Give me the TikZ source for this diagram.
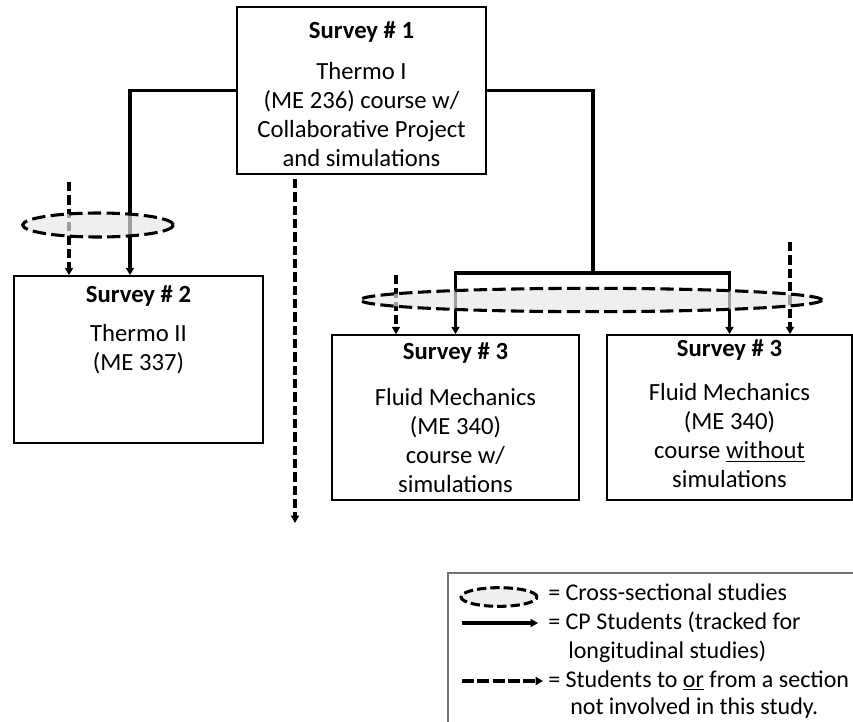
\documentclass[tikz,border=0pt]{standalone}
\usepackage{fontspec}
\setmainfont{Carlito}
\usetikzlibrary{arrows.meta}
\usetikzlibrary{positioning}
\usetikzlibrary{shapes.geometric}
\tikzset{
    survey/.style={
           rectangle,
           draw=black, line width=1.3pt,
           inner sep=0pt,
           },
    heading/.style={
           font=\fontsize{18.5}{21.75}\selectfont\bfseries,
           inner sep=0pt,
           },
    course/.style={
           font=\fontsize{18.5}{21.75}\selectfont,
           align=center,
           inner sep=0pt,
           },
    xsection/.style={
           ellipse,
           draw=black, line width=2.3pt,
           dash pattern=on 10pt off 4pt,
           fill=gray!18, fill opacity=0.68,
           inner sep=0pt,
           },
    cp/.style={line width=2.3pt, -{Triangle[length=5.5pt,width=6pt]}},
    other/.style={cp, dash pattern=on 7pt off 3pt},
    legendtext/.style={
           font=\fontsize{18}{21}\selectfont,
           inner sep=0pt, anchor=base west,
           },
}

\begin{document}
\begin{tikzpicture}[x=0.75pt, y=-0.75pt]
	\useasboundingbox (0,0) rectangle (853,721);

	\node[survey, minimum width=186.75pt, minimum height=125.25pt] (s1) at (361.5,90.5) {};
	\node[survey, minimum width=186.75pt, minimum height=125.25pt] (s2) at (138.5,359.5) {};
	\node[survey, minimum width=185.25pt, minimum height=123.75pt] (s3a) at (455.5,417.5) {};
	\node[survey, minimum width=183.75pt, minimum height=123.75pt] (s3b) at (729.5,417.5) {};

	\node[heading] (s1h) at (361.5,32) {Survey \# 1};
	\node[course] (s1b) at (361.5,115) {Thermo I\\(ME 236) course w/\\Collaborative Project\\and simulations};
	\node[heading] (s2h) at (138.5,296) {Survey \# 2};
	\node[course] (s2b) at (138.5,349) {Thermo II\\(ME 337)};
	\node[heading] (s3ah) at (455.5,353) {Survey \# 3};
	\node[course] (s3ab) at (455.5,441) {Fluid Mechanics\\(ME 340)\\course w/\\simulations};
	\node[heading] (s3bh) at (729.5,350) {Survey \# 3};
	\node[course] (s3bb) at (729.5,436) {Fluid Mechanics\\(ME 340)\\course \underline{without}\\simulations};

	%EDGES
	\coordinate (split) at (593,273);
	\draw[line width=2.3pt] (s1.east) -| (split);
	\draw[cp] (split) -| (s3a.north);
	\draw[cp] (split) -| (s3b.north);
	\draw[cp] (s1.west) -| ([xshift=-6.4pt]s2.north);

	\coordinate (in2) at (69,182);
	\coordinate (in3a) at (396,275);
	\coordinate (in3b) at (790,242);
	\coordinate (out1) at (295,523);
	\draw[other] (in2) -- (in2 |- s2.north);
	\draw[other] (in3a) -- (in3a |- s3a.north);
	\draw[other] (in3b) -- (in3b |- s3b.north);
	\draw[other, shorten <=3pt] (s1.south -| out1) -- (out1);

	% cross-sections
	\node[xsection, minimum width=113pt, minimum height=18pt] (xs2) at (98,225) {};
	\node[xsection, minimum width=346.5pt, minimum height=17.5pt] (xs3) at (591,300) {};

	% legend
	\node[draw=black!55, line width=0.9pt, minimum width=316.5pt, minimum height=129pt] (legend) at (659,659) {};
	\node[xsection, dash pattern=on 7pt off 3pt, minimum width=57pt, minimum height=14pt] (lg1) at (499,597) {};
	\coordinate (lg2a) at (462,623);
	\coordinate (lg2b) at (538,623);
	\coordinate (lg3a) at (462,681);
	\coordinate (lg3b) at (543,681);
	\draw[cp] (lg2a) -- (lg2b);
	\draw[other, dash pattern=on 9pt off 2.5pt] (lg3a) -- (lg3b);
	\node[legendtext] (lt1) at (548,600) {= Cross-sectional studies};
	\node[legendtext] (lt2) at (548,629) {= CP Students (tracked for};
	\node[legendtext] (lt3) at (568,658) {longitudinal studies)};
	\node[legendtext] (lt4) at (548,687) {= Students to \smash{\underline{or}} from a section};
	\node[legendtext] (lt5) at (570,714) {not involved in this study.};
\end{tikzpicture}
\end{document}
